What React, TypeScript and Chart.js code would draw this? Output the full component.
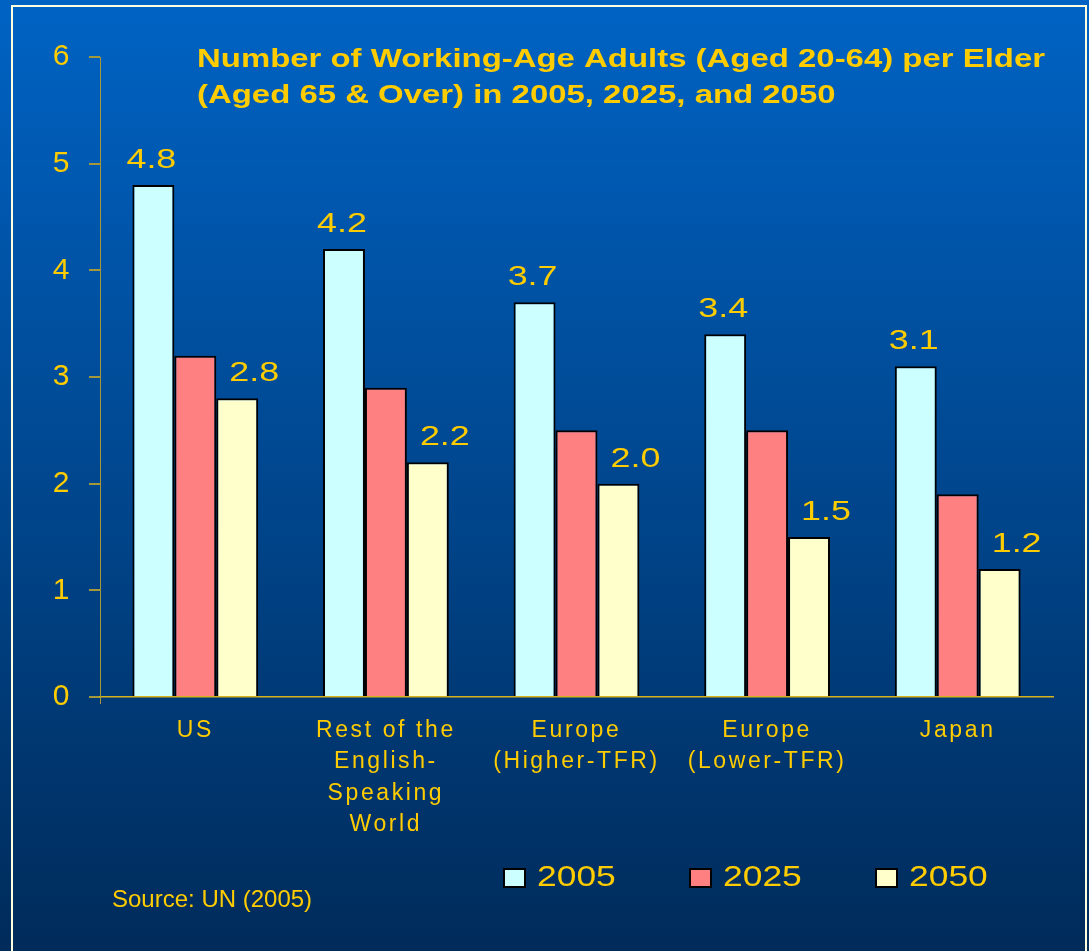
import React, { useEffect, useRef } from 'react';
import { Chart, registerables } from 'chart.js';

Chart.register(...registerables);

const categories: string[][] = [
  ['US'],
  ['Rest of the', 'English-', 'Speaking', 'World'],
  ['Europe', '(Higher-TFR)'],
  ['Europe', '(Lower-TFR)'],
  ['Japan'],
];
const seriesNames = ['2005', '2025', '2050'];
const values2005 = [4.8, 4.2, 3.7, 3.4, 3.1];
const values2025 = [3.2, 2.9, 2.5, 2.5, 1.9];
const values2050 = [2.8, 2.2, 2.0, 1.5, 1.2];
const yTickValues = [0, 1, 2, 3, 4, 5, 6];
const labelledSeries = [true, false, true];
const titleLines = [
  'Number of Working-Age Adults (Aged 20-64) per Elder',
  '(Aged 65 & Over) in 2005, 2025, and 2050',
];
const sourceText = 'Source: UN (2005)';

const FONT = '"Liberation Sans", Arial, Helvetica, sans-serif';
const YELLOW = '#FFCC00';
const OLIVE = '#A3983A';
const seriesColors = ['#CCFFFF', '#FF8080', '#FFFFCC'];

function drawStretched(
  ctx: CanvasRenderingContext2D,
  text: string,
  x: number,
  y: number,
  sx: number,
  align: CanvasTextAlign,
  font: string,
  baseline: CanvasTextBaseline = 'alphabetic'
) {
  ctx.save();
  (ctx as any).letterSpacing = '0px';
  ctx.font = font;
  ctx.fillStyle = YELLOW;
  ctx.textAlign = align;
  ctx.textBaseline = baseline;
  ctx.translate(x, y);
  ctx.scale(sx, 1);
  ctx.fillText(text, 0, 0);
  ctx.restore();
}

const decoPlugin = {
  id: 'deco',
  beforeDraw(chart: any) {
    const { ctx, width, height } = chart;
    ctx.save();
    const g = ctx.createLinearGradient(0, 0, 0, height);
    g.addColorStop(0, '#0063C4');
    g.addColorStop(1, '#002B5A');
    ctx.fillStyle = g;
    ctx.fillRect(0, 0, width, height);
    ctx.strokeStyle = '#FFFFE0';
    ctx.lineWidth = 2;
    ctx.strokeRect(12, 6, 1074, height + 10);
    ctx.restore();
    (ctx as any).letterSpacing = '2.6px';
  },
  afterDatasetsDraw(chart: any) {
    const { ctx } = chart;
    chart.data.datasets.forEach((ds: any, di: number) => {
      if (!labelledSeries[di]) return;
      const meta = chart.getDatasetMeta(di);
      meta.data.forEach((el: any, i: number) => {
        const v = ds.data[i] as number;
        const dx = di === 0 ? -2 : 17;
        drawStretched(ctx, v.toFixed(1), el.x + dx, el.y - 17, 1.28, 'center', `28px ${FONT}`);
      });
    });
  },
  afterDraw(chart: any) {
    const { ctx } = chart;
    (ctx as any).letterSpacing = '0px';
    // title
    ctx.save();
    ctx.font = `bold 25px ${FONT}`;
    const w = ctx.measureText(titleLines[0]).width;
    ctx.restore();
    const sx = 848 / w;
    drawStretched(ctx, titleLines[0], 197, 67, sx, 'left', `bold 25px ${FONT}`);
    drawStretched(ctx, titleLines[1], 197, 103, sx, 'left', `bold 25px ${FONT}`);

    // y axis extension below zero
    const area = chart.chartArea;
    ctx.save();
    ctx.strokeStyle = OLIVE;
    ctx.lineWidth = 1;
    ctx.beginPath();
    ctx.moveTo(area.left + 0.5, area.bottom);
    ctx.lineTo(area.left + 0.5, area.bottom + 7);
    ctx.stroke();
    ctx.restore();

    // legend
    chart.data.datasets.forEach((ds: any, i: number) => {
      const x = 504 + i * 186;
      const y = 869;
      ctx.save();
      ctx.fillStyle = ds.backgroundColor;
      ctx.fillRect(x, y, 21, 18);
      ctx.strokeStyle = '#000000';
      ctx.lineWidth = 2;
      ctx.strokeRect(x, y, 21, 18);
      ctx.restore();
      drawStretched(ctx, ds.label, x + 33, y + 9, 1.18, 'left', `30px ${FONT}`, 'middle');
    });

    // source
    ctx.save();
    (ctx as any).letterSpacing = '0px';
    ctx.font = `24px ${FONT}`;
    ctx.fillStyle = YELLOW;
    ctx.textAlign = 'left';
    ctx.textBaseline = 'alphabetic';
    ctx.fillText(sourceText, 112, 907);
    ctx.restore();
  },
};

export default function App() {
  const ref = useRef<HTMLCanvasElement | null>(null);
  useEffect(() => {
    if (!ref.current) return;
    const chart = new Chart(ref.current, {
      type: 'bar',
      data: {
        labels: categories as any,
        datasets: [values2005, values2025, values2050].map((vals, i) => ({
          label: seriesNames[i],
          data: vals,
          backgroundColor: seriesColors[i],
          borderColor: '#000000',
          borderWidth: 2,
          categoryPercentage: 0.66,
          barPercentage: 1.0,
        })),
      },
      options: {
        responsive: false,
        maintainAspectRatio: false,
        animation: false,
        devicePixelRatio: 1,
        layout: { padding: { top: 57, right: 36, left: 0, bottom: 0 } },
        plugins: {
          legend: { display: false },
          title: { display: false },
          tooltip: { enabled: false },
        },
        scales: {
          x: {
            afterFit: (s: any) => {
              s.height = 254;
            },
            grid: { display: false, drawTicks: false, tickLength: 0 },
            border: { display: true, color: '#D6B21E', width: 1.5 },
            ticks: {
              color: YELLOW,
              font: { family: FONT, size: 23, lineHeight: 1.36 },
              padding: 18,
              maxRotation: 0,
              autoSkip: false,
            },
          },
          y: {
            min: 0,
            max: 6,
            afterFit: (s: any) => {
              s.width = 100;
            },
            afterBuildTicks: (s: any) => {
              s.ticks = yTickValues.map((v) => ({ value: v }));
            },
            grid: {
              display: true,
              drawOnChartArea: false,
              drawTicks: true,
              tickLength: 11,
              color: OLIVE,
              lineWidth: 2,
            },
            border: { display: true, color: OLIVE, width: 1 },
            ticks: {
              color: YELLOW,
              font: { family: FONT, size: 30 },
              padding: 17,
              callback: (v: any) => String(v),
            },
          },
        },
      },
      plugins: [decoPlugin],
    });
    return () => chart.destroy();
  }, []);
  return (
    <div style={{ position: 'absolute', left: 0, top: 0, width: 1089, height: 951 }}>
      <canvas ref={ref} width={1089} height={951} style={{ display: 'block' }} />
    </div>
  );
}
